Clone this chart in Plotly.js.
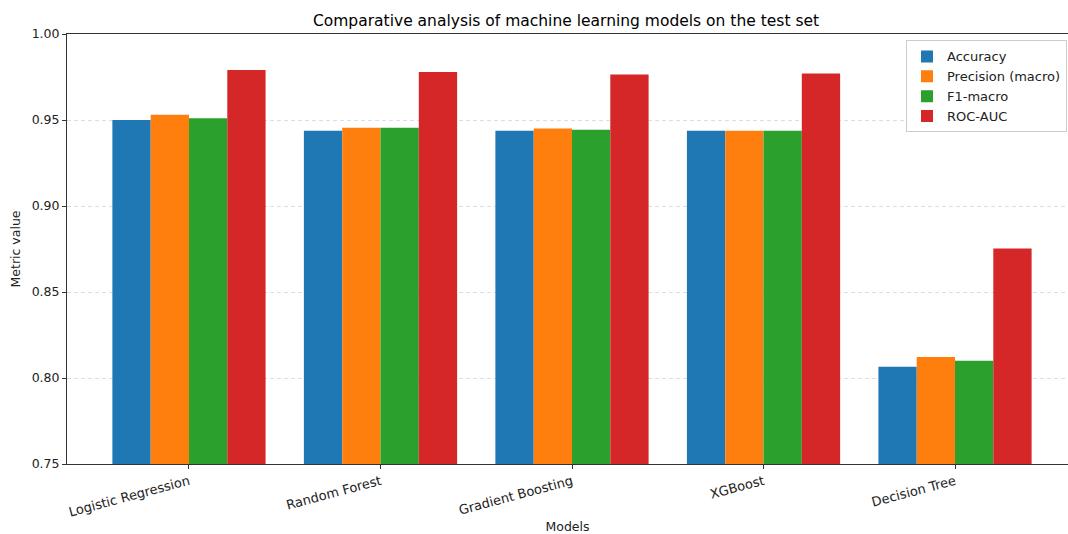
<!DOCTYPE html>
<html>
<head>
<meta charset="utf-8">
<script src="https://cdn.plot.ly/plotly-3.0.1.min.js"></script>
<style>html,body{margin:0;padding:0;background:#fff;}#chart{width:1068px;height:534px;}</style>
</head>
<body>
<div id="chart"></div>
<script>
const models = ["Logistic Regression", "Random Forest", "Gradient Boosting", "XGBoost", "Decision Tree"];
const accuracy = [0.950, 0.9438, 0.9438, 0.9438, 0.8066];
const precisionMacro = [0.953, 0.9455, 0.945, 0.9438, 0.8122];
const f1Macro = [0.951, 0.9455, 0.9444, 0.9438, 0.8101];
const rocAuc = [0.979, 0.9779, 0.9765, 0.9771, 0.8753];

const seriesNames = ["Accuracy", "Precision (macro)", "F1-macro", "ROC-AUC"];
const seriesColors = ["#1f77b4", "#ff7f0e", "#2ca02c", "#d62728"];
const seriesValues = [accuracy, precisionMacro, f1Macro, rocAuc];

const traces = seriesValues.map((vals, i) => ({
  type: "bar",
  name: seriesNames[i],
  x: models,
  y: vals,
  base: 0,
  marker: {color: seriesColors[i], line: {width: 0}},
  hoverinfo: "x+y+name"
}));

const font = "DejaVu Sans, sans-serif";
const layout = {
  width: 1068, height: 534,
  margin: {l: 67, r: 0, t: 34, b: 70},
  paper_bgcolor: "#fff", plot_bgcolor: "#fff",
  font: {family: font, size: 12, color: "#222"},
  title: {text: "Comparative analysis of machine learning models on the test set", font: {family: font, size: 15.5, color: "#000"}, x: 0.53, xanchor: "center", y: 0.962, yanchor: "middle"},
  barmode: "group", bargap: 0.2, bargroupgap: 0,
  xaxis: {
    type: "category", range: [-0.637, 4.59],
    tickangle: -15, ticks: "outside", ticklen: 4, tickcolor: "#333",
    showline: true, linecolor: "#333", linewidth: 1, mirror: true,
    showgrid: false, tickfont: {family: font, size: 13, color: "#222"},
    title: {text: "Models", font: {family: font, size: 12.5, color: "#222"}, standoff: 6}
  },
  yaxis: {
    range: [0.75, 1.0], tickvals: [0.75, 0.80, 0.85, 0.90, 0.95, 1.00],
    tickformat: ".2f", ticks: "outside", ticklen: 4, tickcolor: "#333",
    showline: true, linecolor: "#333", linewidth: 1, mirror: true,
    showgrid: true, gridcolor: "rgba(190,190,190,0.5)", griddash: "4px,3px", gridwidth: 1,
    zeroline: false, tickfont: {family: font, size: 12.5, color: "#222"},
    title: {text: "Metric value", font: {family: font, size: 12.5, color: "#222"}, standoff: 8}
  },
  legend: {
    x: 0.999, xanchor: "right", y: 0.985, yanchor: "top",
    bgcolor: "rgba(255,255,255,0.9)", bordercolor: "#ccc", borderwidth: 1,
    font: {family: font, size: 13, color: "#222"}, tracegroupgap: 0, itemwidth: 30
  },
  showlegend: true
};

Plotly.newPlot("chart", traces, layout, {displayModeBar: false, staticPlot: true});
</script>
</body>
</html>
